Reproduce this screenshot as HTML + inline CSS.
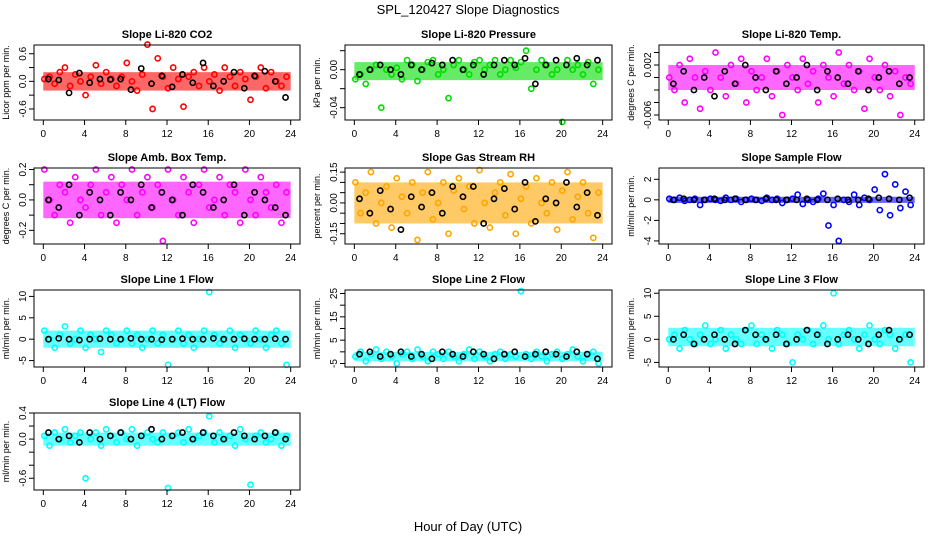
<!DOCTYPE html>
<html><head><meta charset="utf-8"><style>
body{margin:0;background:#fff;}
svg text{font-family:"Liberation Sans",sans-serif;}
</style></head><body>
<svg id="c" width="936" height="540" viewBox="0 0 936 540" xmlns="http://www.w3.org/2000/svg">
<text x="468" y="14" text-anchor="middle" font-size="13">SPL_120427  Slope Diagnostics</text>
<text x="468" y="531" text-anchor="middle" font-size="13">Hour of Day (UTC)</text>
</svg>
<script>
const xTicks=[0,4,8,12,16,20,24];
const co2Col=[0.05,0.1,-0.05,0.2,0.3,-0.1,0.15,0.0,-0.3,0.1,0.35,-0.05,0.2,0.05,-0.1,0.1,0.4,0.0,-0.2,0.15,0.8,-0.6,0.5,0.1,-0.15,0.3,0.05,-0.55,0.1,0.2,-0.1,0.3,0.0,0.15,-0.2,0.3,0.1,-0.1,0.2,0.05,-0.4,0.1,0.3,-0.15,0.2,0.0,-0.1,0.1];
const co2Blk=[0.05,0.03,-0.25,0.18,-0.03,0.05,0.04,0.05,-0.18,0.28,-0.05,0.12,-0.12,0.15,-0.03,0.4,-0.1,0.0,0.2,-0.15,0.12,0.22,0.0,-0.35];
const presCol=[-0.01,-0.005,-0.015,0.0,0.005,-0.04,0.0,-0.005,0.002,-0.01,0.01,0.005,-0.012,0.0,0.008,0.01,-0.005,0.0,-0.03,0.005,0.01,0.0,-0.005,0.008,0.01,0.0,0.005,0.01,-0.005,0.0,0.01,0.002,0.008,0.02,-0.02,0.0,0.01,0.005,-0.005,0.0,-0.055,0.01,0.0,0.005,-0.005,0.008,-0.015,0.0];
const presBlk=[-0.005,0.0,0.005,0.0,-0.005,0.005,0.0,0.007,0.005,0.01,0.0,0.005,-0.005,0.005,0.01,0.005,0.012,-0.015,0.005,0.01,0.005,0.012,0.005,0.01];
const tempCol=[0.0,-0.002,0.002,-0.004,0.003,0.0,-0.005,0.001,-0.002,0.004,0.0,-0.003,0.002,-0.001,0.003,-0.004,0.001,-0.002,0.0,0.003,-0.003,0.001,-0.006,0.002,0.0,-0.002,0.003,-0.001,0.001,-0.004,0.002,0.0,-0.003,0.004,-0.001,0.002,-0.002,0.001,-0.005,0.003,0.0,-0.002,0.002,-0.003,0.001,-0.006,0.0,-0.001];
const tempBlk=[-0.001,0.001,-0.002,0.0,-0.003,0.001,-0.001,0.002,0.0,-0.002,0.001,-0.001,0.0,0.002,-0.002,0.001,0.0,-0.001,0.001,-0.002,0.0,0.001,-0.001,0.0];
const ambCol=[0.2,0.0,-0.1,0.1,0.05,-0.15,0.15,0.0,-0.05,0.1,0.2,-0.1,0.05,0.15,-0.15,0.1,0.0,0.2,-0.1,0.05,0.15,-0.05,0.1,-0.27,0.2,0.0,-0.1,0.15,0.05,-0.15,0.1,0.2,-0.05,0.0,0.15,-0.1,0.1,0.05,-0.15,0.2,0.0,-0.1,0.15,0.05,-0.05,0.1,-0.15,0.05];
const ambBlk=[0.0,-0.05,0.1,-0.1,0.05,0.0,-0.1,0.05,0.0,0.1,-0.05,0.05,0.0,-0.1,0.1,0.05,-0.05,0.0,0.1,-0.1,0.05,0.0,-0.05,-0.1];
const rhCol=[0.1,-0.05,0.05,0.15,-0.1,0.0,0.08,-0.12,0.12,0.03,-0.05,0.1,-0.18,0.05,0.15,-0.08,0.0,0.1,-0.15,0.06,0.12,-0.03,0.08,-0.1,0.16,0.0,-0.12,0.05,0.1,-0.06,0.14,-0.15,0.02,0.08,-0.1,0.12,0.0,-0.05,0.1,-0.13,0.06,0.15,-0.08,0.03,0.1,-0.05,-0.17,0.05];
const rhBlk=[0.02,-0.05,0.06,-0.03,-0.13,0.03,-0.02,0.05,-0.05,0.08,0.03,0.08,-0.1,0.02,0.07,-0.03,0.1,-0.09,0.02,0.0,0.1,-0.02,0.05,-0.06];
const sfCol=[0.1,0,0.2,-0.1,0,0.1,-0.5,0,0.1,0,-0.1,0.2,0,0.1,-0.2,0,0.1,0,-0.1,0.2,0,0.1,-0.3,0,0.1,0.5,-0.4,0,-0.2,0.1,0.6,-2.5,-0.5,-4,0,-0.2,0.5,-0.5,0.2,0,1.0,-1.0,2.5,-1.5,1.5,-0.8,0.8,-0.5];
const sfBlk=[0,0.1,0,0,0.1,0,0.1,0,0,0.1,0,0,0,0.1,0,0,0.1,0,0,0.1,0.2,0.1,0,0.2];
const l1Col=[2,0,-2,1,3,-1,0,2,-2,1,0,-3,2,1,-1,0,2,-1,1,-2,0,2,-1,1,-6,0,2,-1,1,-2,0,2,11,1,-1,0,2,-2,1,0,-1,2,0,-2,1,2,-1,-6];
const l1Blk=[0,0.2,0,-0.2,0,0.1,0,0,0.2,0,0,-0.1,0,0.1,0,0,0.2,0,0,0.1,0,0,0.1,0];
const l2Col=[-2,0,-4,-1,1,-3,0,-2,-5,-1,0,-3,1,-2,-4,0,-1,-3,0,-2,-4,-1,1,-3,0,-2,-4,-1,0,-3,-1,-2,26,-1,-3,0,-2,-4,-1,0,-3,-1,1,-2,-4,-1,0,-5];
const l2Blk=[-1,0,-2,-1,0,-2,-1,-3,0,-1,-2,0,-1,-3,-1,0,-2,-1,0,-1,-2,0,-1,-3];
const l3Col=[0,1,-2,2,0,-1,1,3,-1,0,2,-2,1,0,-1,2,3,-1,1,0,-2,2,1,-1,-5,1,0,2,-1,1,3,0,10,-1,1,2,0,-2,1,3,0,-1,2,1,-2,0,1,-5];
const l3Blk=[0,1,-1,0,1,0,-1,2,1,0,1,-1,0,2,1,-1,0,1,0,-1,1,2,0,1];
const l4Col=[0.05,-0.1,0.1,0.0,0.15,-0.05,0.05,0.1,-0.6,0.0,0.1,-0.1,0.15,0.05,-0.05,0.1,0.0,0.15,-0.1,0.05,0.1,0.0,-0.05,0.1,-0.75,0.05,0.1,-0.05,0.15,0.0,0.05,0.1,0.35,-0.05,0.1,0.0,0.05,-0.1,0.15,0.0,-0.7,0.05,0.1,-0.05,0.0,0.1,-0.1,0.05];
const l4Blk=[0.1,0.0,0.05,-0.05,0.1,0.0,0.05,0.1,0.0,0.05,0.15,0.0,0.05,0.1,0.0,0.1,0.05,0.0,0.1,0.05,0.0,0.05,0.1,0.0];

const panels=[
 {n:'co2',t:'Slope Li-820 CO2',yl:'Licor ppm per min.',c:'#ff0000',col:co2Col,blk:co2Blk,lo:-0.84,hi:0.79,ticks:[-0.6,-0.3,0,0.3,0.6],labels:[-0.6,0,0.6],fmt:1,band:[-0.2,0.2],r:0,k:0},
 {n:'pressure',t:'Slope Li-820 Pressure',yl:'kPa per min.',c:'#00dd00',col:presCol,blk:presBlk,lo:-0.053,hi:0.026,ticks:[-0.04,-0.02,0,0.02],labels:[-0.04,0],fmt:2,band:[-0.011,0.008],r:0,k:1},
 {n:'temp',t:'Slope Li-820 Temp.',yl:'degrees C per min.',c:'#ff00ff',col:tempCol,blk:tempBlk,lo:-0.0068,hi:0.0052,ticks:[-0.006,-0.004,-0.002,0,0.002,0.004],labels:[-0.006,0.002],fmt:3,band:[-0.002,0.002],r:0,k:2},
 {n:'amb-box-temp',t:'Slope Amb. Box Temp.',yl:'degrees C per min.',c:'#ff00ff',col:ambCol,blk:ambBlk,lo:-0.29,hi:0.21,ticks:[-0.2,-0.1,0,0.1,0.2],labels:[-0.2,0,0.2],fmt:1,band:[-0.12,0.12],r:1,k:0},
 {n:'gas-rh',t:'Slope Gas Stream RH',yl:'percent per min.',c:'#ffa500',col:rhCol,blk:rhBlk,lo:-0.2,hi:0.17,ticks:[-0.15,-0.1,-0.05,0,0.05,0.1,0.15],labels:[-0.15,0,0.15],fmt:2,band:[-0.1,0.1],r:1,k:1},
 {n:'sample-flow',t:'Slope Sample Flow',yl:'ml/min per min.',c:'#0000ff',col:sfCol,blk:sfBlk,lo:-4.3,hi:3.1,ticks:[-4,-2,0,2],labels:[-4,-2,0,2],fmt:0,band:[-0.3,0.3],r:1,k:2},
 {n:'line1-flow',t:'Slope Line 1 Flow',yl:'ml/min per min.',c:'#00ffff',col:l1Col,blk:l1Blk,lo:-6.5,hi:11.5,ticks:[-5,0,5,10],labels:[-5,0,5,10],fmt:0,band:[-2,2],r:2,k:0},
 {n:'line2-flow',t:'Slope Line 2 Flow',yl:'ml/min per min.',c:'#00ffff',col:l2Col,blk:l2Blk,lo:-6.5,hi:26.5,ticks:[-5,0,5,10,15,20,25],labels:[-5,5,15,25],fmt:0,band:[-4,0],r:2,k:1},
 {n:'line3-flow',t:'Slope Line 3 Flow',yl:'ml/min per min.',c:'#00ffff',col:l3Col,blk:l3Blk,lo:-6,hi:10.7,ticks:[-5,0,5,10],labels:[-5,0,5,10],fmt:0,band:[-1.5,2.5],r:2,k:2},
 {n:'line4-flow',t:'Slope Line 4 (LT) Flow',yl:'ml/min per min.',c:'#00ffff',col:l4Col,blk:l4Blk,lo:-0.78,hi:0.4,ticks:[-0.6,-0.4,-0.2,0,0.2,0.4],labels:[-0.6,0,0.4],fmt:1,band:[-0.1,0.1],r:3,k:0}
];
const colL=[34,345,659],colR=[300,612,924],rowT=[45,168,290,413],rowB=[120,244,367,490];
const svg=document.getElementById('c');
const NS='http://www.w3.org/2000/svg';
function mk(tag,at,parent){const e=document.createElementNS(NS,tag);for(const k in at)e.setAttribute(k,at[k]);(parent||svg).appendChild(e);return e;}
panels.forEach(p=>{
 const L=colL[p.k],R=colR[p.k],T=rowT[p.r],B=rowB[p.r];
 const x0=L+(R-L)*0.035,x1=R-(R-L)*0.035;
 const sx=h=>x0+(x1-x0)*h/24;
 const sy=v=>B-(v-p.lo)/(p.hi-p.lo)*(B-T);
 const g=mk('g',{});
 
 
 const tt=mk('text',{x:(L+R)/2,y:T-7,'text-anchor':'middle','font-size':11,'font-weight':'bold'},g);tt.textContent=p.t;
 
 
 const yt=mk('text',{transform:`translate(${L-25},${(T+B)/2}) rotate(-90)`,'text-anchor':'middle','font-size':9},g);yt.textContent=p.yl;
 
 
 const bd=mk('rect',{x:x0,y:sy(p.band[1]),width:x1-x0,height:sy(p.band[0])-sy(p.band[1]),fill:p.c,opacity:0.6},g);
 
 
 p.col.forEach((v,i)=>{const c=mk('circle',{cx:sx(i*0.5+0.1),cy:sy(v),r:2.6,fill:'none',stroke:p.c,'stroke-width':1.6},g);
  
  });
 p.blk.forEach((v,i)=>{const c=mk('circle',{cx:sx(i+0.5),cy:sy(v),r:2.6,fill:'none',stroke:'#000','stroke-width':1.6},g);
  
  });
 mk('rect',{x:L,y:T,width:R-L,height:B-T,fill:'none',stroke:'#000','stroke-width':1},g);
 xTicks.forEach(h=>{mk('line',{x1:sx(h),x2:sx(h),y1:B,y2:B+5,stroke:'#000'},g);
  const t=mk('text',{x:sx(h),y:B+17,'text-anchor':'middle','font-size':10},g);t.textContent=h;
  
  });
 p.ticks.forEach(v=>{mk('line',{x1:L-5,x2:L,y1:sy(v),y2:sy(v),stroke:'#000'},g);});
 p.labels.forEach(v=>{
  const t=mk('text',{transform:`translate(${L-8},${sy(v)}) rotate(-90)`,'text-anchor':'middle','font-size':10},g);
  t.textContent=v.toFixed(p.fmt);
  
  });
});
</script>
</body></html>
